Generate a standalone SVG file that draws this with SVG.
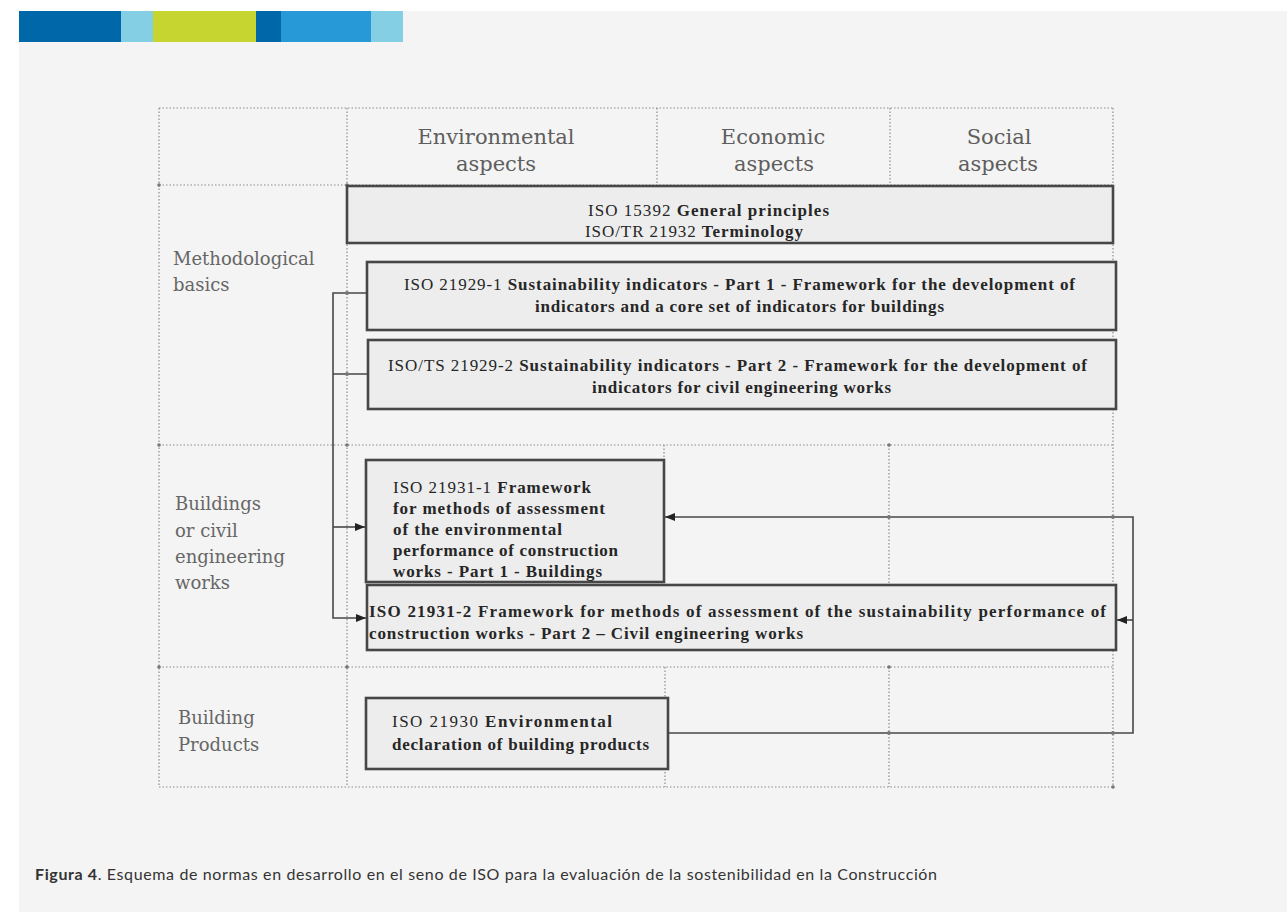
<svg xmlns="http://www.w3.org/2000/svg" width="1287" height="912" viewBox="0 0 1287 912">
  <style>
    .grid { stroke: #8c8c8c; stroke-width: 1.2; stroke-dasharray: 1.5 2; fill: none; }
    .gdot { fill: #777; }
    .head { font-family: "DejaVu Serif", "Liberation Serif", serif; font-size: 21px; fill: #5e5e5e; text-anchor: middle; }
    .row { font-family: "DejaVu Serif", "Liberation Serif", serif; font-size: 18px; fill: #666; }
    .box { fill: #ededed; stroke: #474747; stroke-width: 2.6; }
    .bt { font-family: "Liberation Serif", "DejaVu Serif", serif; font-size: 17px; fill: #262626; }
    .b { font-weight: bold; }
    .conn { stroke: #474747; stroke-width: 1.6; fill: none; }
    .cap { font-family: "Lato", "Open Sans", sans-serif; font-size: 16px; fill: #333; }
  </style>
  <defs>
    <marker id="arrow" markerUnits="userSpaceOnUse" markerWidth="10" markerHeight="8" refX="10" refY="4" orient="auto">
      <path d="M0,0 L10,4 L0,8 Z" fill="#222"/>
    </marker>
  </defs>

  <!-- page and panel -->
  <rect x="0" y="0" width="1287" height="912" fill="#ffffff"/>
  <rect x="19" y="11" width="1268" height="901" fill="#f4f4f4"/>

  <!-- colour band -->
  <g id="band">
    <rect x="19" y="11" width="102" height="31" fill="#0068a8"/>
    <rect x="121" y="11" width="32" height="31" fill="#84cfe3"/>
    <rect x="153" y="11" width="103" height="31" fill="#c6d530"/>
    <rect x="256" y="11" width="25" height="31" fill="#0068a8"/>
    <rect x="281" y="11" width="90" height="31" fill="#2799d7"/>
    <rect x="371" y="11" width="32" height="31" fill="#84cfe3"/>
  </g>

  <!-- dotted table grid -->
  <g id="grid">
    <line class="grid" x1="159" y1="108" x2="1113" y2="108"/>
    <line class="grid" x1="159" y1="185" x2="1113" y2="185"/>
    <line class="grid" x1="159" y1="445" x2="1113" y2="445"/>
    <line class="grid" x1="159" y1="667" x2="1113" y2="667"/>
    <line class="grid" x1="159" y1="787" x2="1113" y2="787"/>
    <line class="grid" x1="159" y1="108" x2="159" y2="787"/>
    <line class="grid" x1="347" y1="108" x2="347" y2="787"/>
    <line class="grid" x1="657" y1="108" x2="657" y2="185"/>
    <line class="grid" x1="890" y1="108" x2="890" y2="185"/>
    <line class="grid" x1="664" y1="445" x2="664" y2="585"/>
    <line class="grid" x1="889" y1="445" x2="889" y2="585"/>
    <line class="grid" x1="665" y1="667" x2="665" y2="787"/>
    <line class="grid" x1="889" y1="667" x2="889" y2="787"/>
    <line class="grid" x1="1113" y1="108" x2="1113" y2="787"/>
    <circle class="gdot" cx="159" cy="185" r="1.8"/>
    <circle class="gdot" cx="347" cy="185" r="1.8"/>
    <circle class="gdot" cx="159" cy="445" r="1.8"/>
    <circle class="gdot" cx="347" cy="445" r="1.8"/>
    <circle class="gdot" cx="889" cy="445" r="1.8"/>
    <circle class="gdot" cx="159" cy="667" r="1.8"/>
    <circle class="gdot" cx="347" cy="667" r="1.8"/>
    <circle class="gdot" cx="889" cy="667" r="1.8"/>
    <circle class="gdot" cx="1113" cy="787" r="1.8"/>
  </g>

  <!-- column headings -->
  <g id="col-environmental">
    <text class="head" x="496" y="144">Environmental</text>
    <text class="head" x="496" y="171">aspects</text>
  </g>
  <g id="col-economic">
    <text class="head" x="773" y="144">Economic</text>
    <text class="head" x="774" y="171">aspects</text>
  </g>
  <g id="col-social">
    <text class="head" x="999" y="144">Social</text>
    <text class="head" x="998" y="171">aspects</text>
  </g>

  <!-- row headings -->
  <g id="row-methodological">
    <text class="row" x="173" y="265">Methodological</text>
    <text class="row" x="173" y="291">basics</text>
  </g>
  <g id="row-buildings">
    <text class="row" x="175" y="510">Buildings</text>
    <text class="row" x="175" y="537">or civil</text>
    <text class="row" x="175" y="563">engineering</text>
    <text class="row" x="175" y="589">works</text>
  </g>
  <g id="row-products">
    <text class="row" x="178" y="724">Building</text>
    <text class="row" x="178" y="751">Products</text>
  </g>

  <!-- standards -->
  <g id="iso-15392">
    <rect class="box" x="347" y="186" width="766" height="57"/>
    <text class="bt" x="588" y="216" textLength="241">ISO 15392 <tspan class="b">General principles</tspan></text>
    <text class="bt" x="585" y="237" textLength="218">ISO/TR 21932 <tspan class="b">Terminology</tspan></text>
  </g>

  <g id="iso-21929-1">
    <rect class="box" x="367" y="262" width="749" height="68"/>
    <text class="bt" x="404" y="290" textLength="671">ISO 21929-1 <tspan class="b">Sustainability indicators - Part 1 - Framework for the development of</tspan></text>
    <text class="bt b" x="535" y="312" textLength="409">indicators and a core set of indicators for buildings</text>
  </g>

  <g id="iso-ts-21929-2">
    <rect class="box" x="368" y="340" width="748" height="69"/>
    <text class="bt" x="388" y="371" textLength="699">ISO/TS 21929-2 <tspan class="b">Sustainability indicators - Part 2 - Framework for the development of</tspan></text>
    <text class="bt b" x="592" y="393" textLength="299">indicators for civil engineering works</text>
  </g>

  <g id="iso-21931-1">
    <rect class="box" x="366" y="460" width="298" height="122"/>
    <text class="bt" x="393" y="493" textLength="198">ISO 21931-1 <tspan class="b">Framework</tspan></text>
    <text class="bt b" x="393" y="514" textLength="212">for methods of assessment</text>
    <text class="bt b" x="393" y="535" textLength="169">of the environmental</text>
    <text class="bt b" x="393" y="556" textLength="225">performance of construction</text>
    <text class="bt b" x="393" y="577" textLength="209">works - Part 1 - Buildings</text>
  </g>

  <g id="iso-21931-2">
    <rect class="box" x="367" y="585" width="749" height="65"/>
    <text class="bt b" x="369" y="617" textLength="737">ISO 21931-2 Framework for methods of assessment of the sustainability performance of</text>
    <text class="bt b" x="369" y="639" textLength="434">construction works - Part 2 – Civil engineering works</text>
  </g>

  <g id="iso-21930">
    <rect class="box" x="366" y="698" width="302" height="71"/>
    <text class="bt" x="392" y="727" textLength="220">ISO 21930  <tspan class="b">Environmental</tspan></text>
    <text class="bt b" x="392" y="750" textLength="257">declaration of building products</text>
  </g>

  <!-- connectors -->
  <g id="connectors">
    <path class="conn" d="M367,293 H333 V618 H366" marker-end="url(#arrow)"/>
    <path class="conn" d="M368,374 H333"/>
    <path class="conn" d="M333,527 H365" marker-end="url(#arrow)"/>
    <path class="conn" d="M668,733 H1133 V517 H665" marker-end="url(#arrow)"/>
    <path class="conn" d="M1133,620 H1117" marker-end="url(#arrow)"/>
    <circle class="gdot" cx="347" cy="293" r="2"/>
    <circle class="gdot" cx="347" cy="374" r="2"/>
    <circle class="gdot" cx="889" cy="517" r="2"/>
    <circle class="gdot" cx="1113" cy="517" r="2"/>
    <circle class="gdot" cx="889" cy="733" r="2"/>
    <circle class="gdot" cx="1113" cy="733" r="2"/>
  </g>

  <!-- caption -->
  <text class="cap" x="35" y="880" textLength="902"><tspan font-weight="bold">Figura 4</tspan>. Esquema de normas en desarrollo en el seno de ISO para la evaluación de la sostenibilidad en la Construcción</text>
</svg>
